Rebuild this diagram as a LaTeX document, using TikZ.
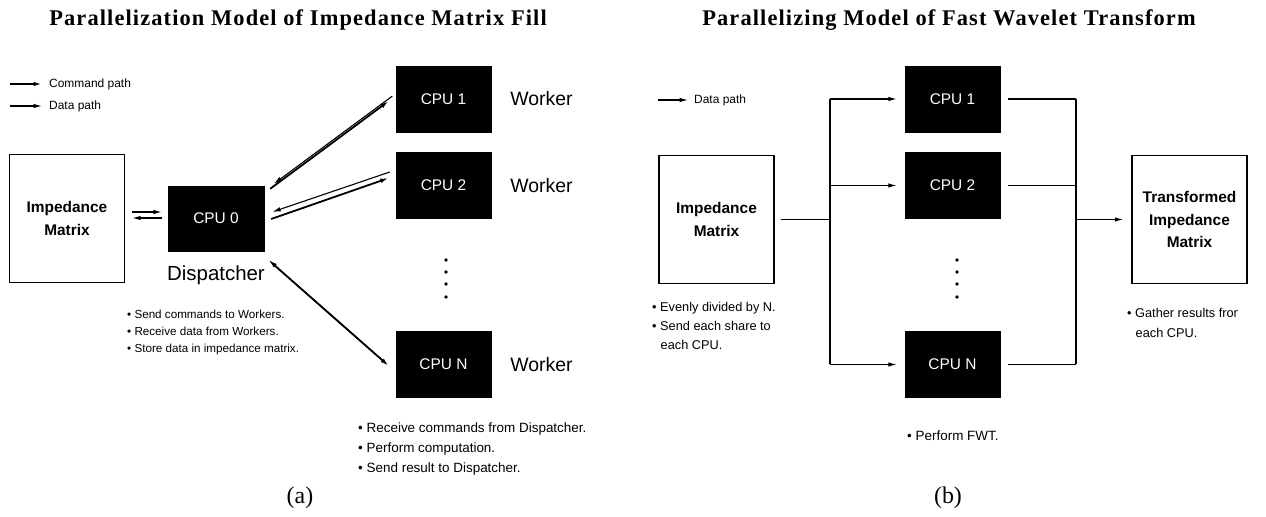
\documentclass[tikz,border=0pt]{standalone}
\usepackage{fontspec}
\setmainfont{Liberation Serif}
\newfontfamily\sansf{Liberation Sans}
\newfontfamily\headf[LetterSpace=5]{Liberation Serif}
\usetikzlibrary{arrows.meta,calc}

\begin{document}
\begin{tikzpicture}[x=1bp,y=-1bp,
  cpu/.style={fill=black, draw=black, minimum width=95bp, minimum height=66bp,
    inner sep=0pt, text=white, font=\sansf\fontsize{15.5}{15.5}\selectfont},
  mat/.style={draw=black, line width=1.3bp, fill=white, inner sep=0pt, align=center,
    minimum width=115bp, minimum height=128bp,
    font=\sansf\bfseries\fontsize{15.5}{23}\selectfont},
  role/.style={inner sep=0pt, font=\sansf\fontsize{19.5}{19.5}\selectfont},
  line/.style={inner sep=0pt, anchor=base west},
  noteS/.style={line, font=\sansf\fontsize{11.7}{11.7}\selectfont},
  noteM/.style={line, font=\sansf\fontsize{12.8}{12.8}\selectfont},
  noteL/.style={line, font=\sansf\fontsize{13.5}{13.5}\selectfont},
  legend/.style={inner sep=0pt, anchor=west, font=\sansf\fontsize{12}{12}\selectfont},
  heading/.style={inner sep=0pt, font=\headf\bfseries\fontsize{22.5}{22.5}\selectfont},
  caption/.style={inner sep=0pt, font=\fontsize{24}{24}\selectfont},
  tip/.style={-{Latex[length=8.5bp,width=4.5bp]}},
  cmdline/.style={tip, line width=1.8bp},
  datline/.style={tip, line width=1.1bp},
  busline/.style={line width=1.1bp},
]
\useasboundingbox (0,0) rectangle (1266,517);

% ---------------- (a) impedance matrix fill ----------------
\node[heading] (titleA) at (298,20) {Parallelization Model of Impedance Matrix Fill};

\node[legend] (lgCmd) at (49,84) {Command path};
\node[legend] (lgDat) at (49,106) {Data path};
\draw[cmdline] ([xshift=-39bp]lgCmd.west) -- ([xshift=-7bp]lgCmd.west);
\draw[datline] ([xshift=-39bp]lgDat.west) -- ([xshift=-7bp]lgDat.west);

\node[mat] (imL) at (67,218.5) {Impedance\\Matrix};
\node[cpu, minimum width=96bp, minimum height=65bp] (cpu0) at (216,218.5) {CPU 0};
\node[role, font=\sansf\fontsize{20.5}{20.5}\selectfont] (disp) at (216,275) {Dispatcher};

\node[cpu] (w1) at (443.5,99) {CPU 1};
\node[cpu] (w2) at (443.5,185.5) {CPU 2};
\node[cpu] (wn) at (443.5,364.5) {CPU N};
\node[role] (r1) at (541.5,99) {Worker};
\node[role] (r2) at (541.5,185.5) {Worker};
\node[role] (rn) at (541.5,364.5) {Worker};

\foreach \yy in {260,272,284,297} \fill (446,\yy) circle (1.8bp);

% matrix <-> dispatcher
\draw[datline] ([shift={(-6bp,0.5bp)}]cpu0.west) -- ([shift={(7bp,0.5bp)}]imL.east);
\draw[datline] ([shift={(7bp,6.5bp)}]imL.east) -- ([shift={(-6bp,6.5bp)}]cpu0.west);

% dispatcher <-> workers: command out, data back
\draw[cmdline] ([shift={(6bp,-3bp)}]cpu0.north east) -- ([shift={(-7bp,-2bp)}]w1.west);
\draw[datline] ([shift={(-3.5bp,2.9bp)}]w1.west) -- ([shift={(9.5bp,1.9bp)}]cpu0.north east);

\draw[cmdline] ([shift={(7bp,-0.5bp)}]cpu0.east) -- ([shift={(-7bp,7.5bp)}]w2.west);
\draw[datline] ([shift={(-6bp,13.5bp)}]w2.west) -- ([shift={(8bp,6.5bp)}]cpu0.east);

\draw[cmdline] ([shift={(9bp,-13bp)}]cpu0.south east) -- ([shift={(-7bp,-1.5bp)}]wn.west);
\draw[datline] ([shift={(-11.4bp,2.6bp)}]wn.west) -- ([shift={(4.6bp,-8.9bp)}]cpu0.south east);

\node[noteS] (d1) at (127,318.2) {\textbullet\ Send commands to Workers.};
\node[noteS] (d2) at (127,335.2) {\textbullet\ Receive data from Workers.};
\node[noteS] (d3) at (127,352.2) {\textbullet\ Store data in impedance matrix.};

\node[noteL] (k1) at (358,432) {\textbullet\ Receive commands from Dispatcher.};
\node[noteL] (k2) at (358,452) {\textbullet\ Perform computation.};
\node[noteL] (k3) at (358,472) {\textbullet\ Send result to Dispatcher.};

\node[caption] (capA) at (300,498) {(a)};

% ---------------- (b) fast wavelet transform ----------------
\node[heading] (titleB) at (949,20) {Parallelizing Model of Fast Wavelet Transform};

\node[legend] (lgDatB) at (694,100) {Data path};
\draw[datline] ([xshift=-36bp]lgDatB.west) -- ([xshift=-6bp]lgDatB.west);

\node[mat] (imR) at (716.5,219.5) {Impedance\\Matrix};
\node[cpu] (c1) at (952.5,99) {CPU 1};
\node[cpu] (c2) at (952.5,185.5) {CPU 2};
\node[cpu] (cn) at (952.5,364.5) {CPU N};
\node[mat] (tim) at (1189.5,219.5) {Transformed\\Impedance\\Matrix};

\foreach \yy in {260,272,284,297} \fill (957,\yy) circle (1.8bp);

\coordinate (split) at (830,219.5);
\coordinate (join) at (1076,219.5);

\draw[busline, shorten <=6bp] (imR.east) -- (imR.east -| split);
\draw[busline] (split |- c1.west) -- (split |- cn.west);
\draw[datline, shorten >=8bp] (split |- c1.west) -- (c1.west);
\draw[datline, shorten >=8bp] (split |- c2.west) -- (c2.west);
\draw[datline, shorten >=8bp] (split |- cn.west) -- (cn.west);

\draw[busline, shorten <=8bp] (c1.east) -- (join |- c1.east);
\draw[busline, shorten <=8bp] (c2.east) -- (join |- c2.east);
\draw[busline, shorten <=8bp] (cn.east) -- (join |- cn.east);
\draw[busline] (join |- c1.east) -- (join |- cn.east);
\draw[datline, shorten >=8bp] (join |- tim.west) -- (tim.west);

\node[noteM] (s1) at (652,311.7) {\textbullet\ Evenly divided by N.};
\node[noteM] (s2) at (652,330.7) {\textbullet\ Send each share to};
\node[noteM] (s3) at (660.5,349.2) {each CPU.};

\node[noteL] (f1) at (907,440) {\textbullet\ Perform FWT.};

% the scanned page cuts this note off at its right edge
\begin{scope}
  \clip (1100,290) rectangle (1237,360);
  \node[noteM] (g1) at (1127,317.5) {\textbullet\ Gather results from};
  \node[noteM] (g2) at (1135.5,337.5) {each CPU.};
\end{scope}

\node[caption] (capB) at (948,498) {(b)};
\end{tikzpicture}
\end{document}
